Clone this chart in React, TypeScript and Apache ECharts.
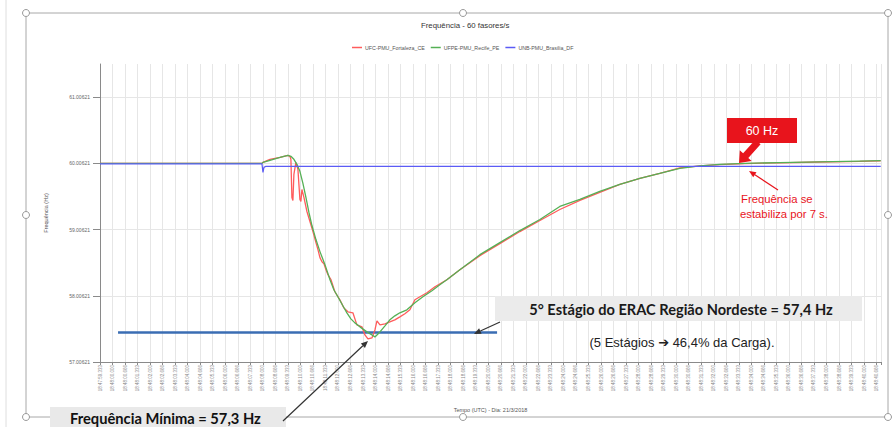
import React, { useEffect, useRef } from "react";
import * as echarts from "echarts";

// ---- data ----
const Y_BASE = 57.00621;
const yTickLabelValues = [57.00621, 58.00621, 59.00621, 60.00621, 61.00621];

const timeTickLabels = [
  "18:47:59.333", "18:48:00.000", "18:48:00.666", "18:48:01.333", "18:48:02.000", "18:48:02.666",
  "18:48:03.333", "18:48:04.000", "18:48:04.666", "18:48:05.333", "18:48:06.000", "18:48:06.666",
  "18:48:07.333", "18:48:08.000", "18:48:08.666", "18:48:09.333", "18:48:10.000", "18:48:10.666",
  "18:48:11.333", "18:48:12.000", "18:48:12.666", "18:48:13.333", "18:48:14.000", "18:48:14.666",
  "18:48:15.333", "18:48:16.000", "18:48:16.666", "18:48:17.333", "18:48:18.000", "18:48:18.666",
  "18:48:19.333", "18:48:20.000", "18:48:20.666", "18:48:21.333", "18:48:22.000", "18:48:22.666",
  "18:48:23.333", "18:48:24.000", "18:48:24.666", "18:48:25.333", "18:48:26.000", "18:48:26.666",
  "18:48:27.333", "18:48:28.000", "18:48:28.666", "18:48:29.333", "18:48:30.000", "18:48:30.666",
  "18:48:31.333", "18:48:32.000", "18:48:32.666", "18:48:33.333", "18:48:34.000", "18:48:34.666",
  "18:48:35.333", "18:48:36.000", "18:48:36.666", "18:48:37.333", "18:48:38.000", "18:48:38.666",
  "18:48:39.333", "18:48:40.000", "18:48:40.666",
];

// time positions in tick units (one tick = 2/3 s)
const fortalezaT = [0, 12.93, 13.01, 13.57, 14.37, 15.0, 15.16, 15.24, 15.32, 15.4, 15.48, 15.64, 15.8, 15.96, 16.04, 16.12, 16.28, 16.52, 16.76, 17.0, 17.24, 17.4, 17.56, 17.72, 17.88, 18.04, 18.2, 18.44, 18.75, 19.15, 19.47, 19.79, 20.19, 20.43, 20.51, 20.91, 21.15, 21.39, 21.71, 21.95, 22.11, 22.35, 22.75, 23.14, 23.54, 23.94, 24.34, 24.74, 25.14, 25.54, 26.1, 26.74, 27.69, 28.73, 30.33, 31.92, 33.52, 35.12, 36.71, 38.31, 39.9, 41.5, 43.1, 44.69, 46.29, 47.89, 49.48, 51.48, 54.27, 57.46, 60.65, 62.33];
const fortalezaHz = [60.006, 60.006, 60.021, 60.067, 60.097, 60.127, 60.112, 60.067, 59.491, 59.446, 59.84, 60.021, 59.915, 59.461, 59.431, 59.612, 59.491, 59.279, 59.127, 58.976, 58.809, 58.703, 58.582, 58.521, 58.491, 58.4, 58.324, 58.249, 58.067, 57.946, 57.824, 57.764, 57.749, 57.612, 57.567, 57.537, 57.415, 57.355, 57.37, 57.491, 57.627, 57.567, 57.582, 57.612, 57.643, 57.688, 57.734, 57.794, 57.946, 57.991, 58.052, 58.143, 58.249, 58.4, 58.612, 58.794, 58.976, 59.143, 59.309, 59.446, 59.567, 59.688, 59.779, 59.855, 59.938, 59.968, 59.986, 60.002, 60.014, 60.026, 60.036, 60.043];

const recifeT = [0, 12.93, 13.01, 13.57, 14.37, 15.0, 15.24, 15.48, 15.72, 15.96, 16.2, 16.44, 16.68, 16.92, 17.24, 17.56, 17.96, 18.36, 18.67, 18.99, 19.39, 19.71, 20.03, 20.35, 20.75, 21.31, 21.71, 21.95, 22.19, 22.35, 22.75, 23.14, 23.54, 23.94, 24.5, 25.14, 25.78, 26.5, 27.13, 27.69, 28.73, 30.33, 31.92, 33.52, 35.12, 36.71, 38.31, 39.9, 41.5, 43.1, 44.69, 46.29, 47.89, 49.48, 51.48, 54.27, 57.46, 60.65, 62.33];
const recifeHz = [60.006, 60.006, 60.021, 60.052, 60.097, 60.127, 60.112, 60.067, 59.991, 59.885, 59.703, 59.491, 59.264, 59.067, 58.855, 58.673, 58.476, 58.249, 58.097, 57.991, 57.855, 57.749, 57.658, 57.597, 57.537, 57.461, 57.415, 57.385, 57.43, 57.461, 57.552, 57.643, 57.703, 57.749, 57.794, 57.9, 57.991, 58.082, 58.173, 58.249, 58.4, 58.627, 58.809, 58.991, 59.158, 59.355, 59.461, 59.582, 59.688, 59.779, 59.855, 59.93, 59.968, 59.991, 60.006, 60.017, 60.029, 60.04, 60.046];

const brasiliaT = [0, 12.93, 13.01, 13.09, 13.25, 62.33];
const brasiliaHz = [59.998, 59.998, 59.87, 59.945, 59.961, 59.961];

const eracT = [1.44, 31.7];
const eracHz = [57.45, 57.45];

const seriesNames = ["UFC-PMU_Fortaleza_CE", "UFPE-PMU_Recife_PE", "UNB-PMU_Brasilia_DF"];

const toData = (t: number[], hz: number[]) => t.map((x, i) => [x, +(hz[i] - Y_BASE).toFixed(5)]);

function thinArrow(x1: number, y1: number, x2: number, y2: number, color: string, len = 7, half = 3) {
  const dx = x2 - x1, dy = y2 - y1;
  const L = Math.hypot(dx, dy);
  const ux = dx / L, uy = dy / L;
  const nx = -uy, ny = ux;
  const bx = x2 - ux * len, by = y2 - uy * len;
  return [
    { type: "line", z: 100, shape: { x1, y1, x2: bx, y2: by }, style: { stroke: color, lineWidth: 1.2 } },
    {
      type: "polygon", z: 100,
      shape: { points: [[x2, y2], [bx + nx * half, by + ny * half], [bx - nx * half, by - ny * half]] },
      style: { fill: color },
    },
  ];
}

function thickArrow(x1: number, y1: number, x2: number, y2: number, color: string, sw: number, hw: number, hl: number) {
  const dx = x2 - x1, dy = y2 - y1;
  const L = Math.hypot(dx, dy);
  const ux = dx / L, uy = dy / L;
  const nx = -uy, ny = ux;
  const bx = x2 - ux * hl, by = y2 - uy * hl;
  const pts = [
    [x1 + nx * sw / 2, y1 + ny * sw / 2],
    [bx + nx * sw / 2, by + ny * sw / 2],
    [bx + nx * hw / 2, by + ny * hw / 2],
    [x2, y2],
    [bx - nx * hw / 2, by - ny * hw / 2],
    [bx - nx * sw / 2, by - ny * sw / 2],
    [x1 - nx * sw / 2, y1 - ny * sw / 2],
  ];
  return { type: "polygon", z: 100, shape: { points: pts }, style: { fill: color } };
}

export default function App() {
  const ref = useRef<HTMLDivElement>(null);
  useEffect(() => {
    if (!ref.current) return;
    const chart = echarts.init(ref.current, null, { renderer: "svg" });
    const frame = "#a8a8a8";
    const handles = [
      [26, 13], [463, 13], [888, 13], [26, 215], [888, 215], [26, 417], [463, 417], [888, 417],
    ].map(([x, y]) => ({
      type: "circle", z: 50, shape: { cx: x, cy: y, r: 3.5 }, style: { fill: "#fff", stroke: "#999", lineWidth: 1 },
    }));
    const yTicks = yTickLabelValues.map((v) => +(v - Y_BASE).toFixed(5));
    const option: any = {
      animation: false,
      backgroundColor: "#fff",
      textStyle: { fontFamily: "Liberation Sans, Arial, sans-serif" },
      title: {
        text: "Frequência - 60 fasores/s",
        left: 416, top: 16,
        textStyle: { fontSize: 7.8, fontWeight: "normal", color: "#333" },
      },
      legend: {
        data: seriesNames,
        left: 347, top: 40,
        icon: "rect", itemWidth: 10, itemHeight: 1.5, itemGap: 6,
        textStyle: { fontSize: 5.3, color: "#555", padding: [0, 0, 0, -2] },
      },
      grid: { left: 100, right: 13, top: 64, bottom: 65, outerBoundsMode: "none" },
      xAxis: {
        type: "value", min: 0, max: 62.35, interval: 1,
        axisLine: { lineStyle: { color: "#8a8a8a" } },
        axisTick: { show: true, length: 3, lineStyle: { color: "#8a8a8a" } },
        axisLabel: {
          rotate: 90, fontSize: 4.5, color: "#888", margin: 3, showMaxLabel: true,
          formatter: (v: number) => {
            const i = Math.round(v);
            return Math.abs(v - i) < 1e-6 && timeTickLabels[i] ? timeTickLabels[i] : "";
          },
        },
        splitLine: { show: true, lineStyle: { color: "#e6e6e6" } },
        name: "Tempo (UTC) - Dia: 21/3/2018",
        nameLocation: "middle", nameGap: 45,
        nameTextStyle: { fontSize: 5.5, color: "#555" },
      },
      yAxis: {
        type: "value", min: 0, max: 4.5, interval: 0.2,
        axisLine: { show: true, lineStyle: { color: "#8a8a8a" } },
        axisTick: { show: true, length: 7, customValues: yTicks, lineStyle: { color: "#8a8a8a" } },
        axisLabel: {
          customValues: yTicks, fontSize: 5, color: "#666", margin: 10,
          formatter: (v: number) => (v + Y_BASE).toFixed(5),
        },
        splitLine: { show: true, lineStyle: { color: "#e6e6e6" } },
        name: "Frequência (Hz)",
        nameLocation: "middle", nameGap: 51, nameRotate: 90,
        nameTextStyle: { fontSize: 5.5, color: "#555" },
      },
      series: [
        {
          name: "ERAC", type: "line", data: toData(eracT, eracHz), showSymbol: false,
          lineStyle: { color: "#3a6db3", width: 2.5 }, z: 1, silent: true,
        },
        {
          name: seriesNames[0], type: "line", data: toData(fortalezaT, fortalezaHz), showSymbol: false,
          color: "#ff5c5c", lineStyle: { width: 1.3 }, z: 3,
        },
        {
          name: seriesNames[1], type: "line", data: toData(recifeT, recifeHz), showSymbol: false,
          color: "#55b055", lineStyle: { width: 1.3 }, z: 4,
        },
        {
          name: seriesNames[2], type: "line", data: toData(brasiliaT, brasiliaHz), showSymbol: false,
          color: "#5b5bf5", lineStyle: { width: 1.2 }, z: 5,
        },
      ],
      graphic: [
        { type: "line", z: 40, shape: { x1: 6, y1: 0, x2: 6, y2: 427 }, style: { stroke: "#dedede", lineWidth: 1 } },
        { type: "rect", z: 45, shape: { x: 26, y: 13, width: 862, height: 404 }, style: { fill: "none", stroke: frame, lineWidth: 1 } },
        ...handles,
        // 60 Hz label
        { type: "rect", z: 100, shape: { x: 727, y: 118, width: 70, height: 25 }, style: { fill: "#e8141c" } },
        {
          type: "text", z: 101, x: 762, y: 130.5,
          style: { text: "60 Hz", fill: "#fff", fontSize: 12.5, fontFamily: "Liberation Sans", align: "center", verticalAlign: "middle" },
        },
        thickArrow(758, 142, 739, 163, "#e8141c", 7, 16, 10),
        ...thinArrow(778, 190, 749, 171, "#e8141c", 7, 3),
        {
          type: "text", z: 101, x: 741, y: 199,
          style: { text: "Frequência se", fill: "#e8141c", fontSize: 11.3, fontFamily: "Liberation Sans", verticalAlign: "middle" },
        },
        {
          type: "text", z: 101, x: 740, y: 214,
          style: { text: "estabiliza por 7 s.", fill: "#e8141c", fontSize: 11.3, fontFamily: "Liberation Sans", verticalAlign: "middle" },
        },
        // ERAC box
        { type: "rect", z: 100, shape: { x: 495, y: 296, width: 367, height: 25 }, style: { fill: "#ebebeb" } },
        {
          type: "text", z: 101, x: 681, y: 309,
          style: { text: "5° Estágio do ERAC Região Nordeste = 57,4 Hz", fill: "#1a1a1a", fontSize: 14.6, fontWeight: "bold", fontFamily: "Lato", align: "center", verticalAlign: "middle" },
        },
        {
          type: "text", z: 101, x: 682, y: 342,
          style: { text: "(5 Estágios ➔ 46,4% da Carga).", fill: "#222", fontSize: 13, fontFamily: "Liberation Sans, DejaVu Sans", align: "center", verticalAlign: "middle" },
        },
        ...thinArrow(500, 322, 474, 334, "#333", 7, 3),
        // minimum box
        { type: "rect", z: 100, shape: { x: 50, y: 407, width: 236, height: 22 }, style: { fill: "#e9e9e9" } },
        {
          type: "text", z: 101, x: 70, y: 417.5,
          style: { text: "Frequência Mínima = 57,3 Hz", fill: "#111", fontSize: 14.7, fontWeight: "bold", fontFamily: "Lato", verticalAlign: "middle" },
        },
        ...thinArrow(283, 421, 368, 341, "#333", 7, 3),
      ],
    };
    chart.setOption(option);
    return () => chart.dispose();
  }, []);
  return <div ref={ref} style={{ position: "absolute", left: 0, top: 0, width: 894, height: 427 }} />;
}
